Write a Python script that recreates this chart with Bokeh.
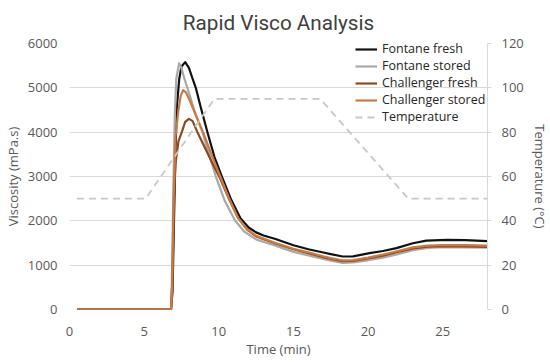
from bokeh.plotting import figure
from bokeh.models import Range1d, LinearAxis, FixedTicker, Legend, LegendItem
from bokeh.embed import file_html
from bokeh.resources import INLINE

# ---- data ----
chart_title = "Rapid Visco Analysis"
series_names = ["Fontane fresh", "Fontane stored", "Challenger fresh", "Challenger stored"]
series_colors = ["#111111", "#A9A9A9", "#8A4A22", "#C97B45"]

ff_time = [0.5, 6.8, 6.9, 7.0, 7.1, 7.2, 7.35, 7.5, 7.75, 8.0, 8.2, 8.46, 8.8, 9.24, 9.7, 10.2,
           10.8, 11.45, 12.0, 12.5, 13.0, 13.8, 15.0, 16.0, 17.0, 17.5, 18.3, 19.0, 20.1, 21.0,
           21.9, 23.0, 23.9, 25.3, 26.5, 28.0]
ff_visc = [0, 0, 400, 2000, 3600, 4600, 5200, 5480, 5580, 5450, 5250, 5000, 4550, 4000, 3450, 3000,
           2500, 2060, 1850, 1740, 1670, 1590, 1450, 1360, 1285, 1250, 1195, 1200, 1270, 1320,
           1385, 1495, 1555, 1572, 1565, 1541]

fs_time = [0.5, 6.8, 6.85, 6.95, 7.05, 7.15, 7.34, 7.5, 7.7, 7.9, 8.4, 8.9, 9.35, 9.8, 10.4,
           11.1, 11.7, 12.5, 13.8, 15.0, 16.0, 17.0, 17.5, 18.3, 19.0, 20.0, 21.0, 22.0, 23.0,
           24.0, 25.0, 26.5, 28.0]
fs_visc = [0, 0, 500, 2600, 4300, 5200, 5556, 5450, 5200, 5000, 4450, 4000, 3500, 3000, 2450,
           2000, 1760, 1580, 1440, 1300, 1220, 1140, 1100, 1050, 1060, 1110, 1170, 1250, 1340,
           1390, 1405, 1400, 1395]

cf_time = [0.5, 6.8, 6.9, 7.0, 7.1, 7.3, 7.52, 7.75, 8.0, 8.25, 8.57, 9.0, 9.5, 10.1, 10.7,
           11.3, 11.9, 12.5, 13.8, 15.0, 16.0, 17.0, 17.5, 18.3, 19.0, 20.0, 21.0, 22.0, 23.0,
           24.0, 25.0, 26.5, 28.0]
cf_visc = [0, 0, 700, 2500, 3300, 3800, 4000, 4230, 4300, 4250, 4000, 3700, 3350, 2950, 2480,
           2060, 1800, 1650, 1490, 1360, 1270, 1180, 1140, 1090, 1095, 1150, 1215, 1300, 1380,
           1420, 1430, 1425, 1410]

cs_time = [0.5, 6.8, 6.88, 6.98, 7.1, 7.3, 7.45, 7.61, 7.8, 8.0, 8.5, 8.95, 9.5, 10.1, 10.7,
           11.3, 11.9, 12.5, 13.8, 15.0, 16.0, 17.0, 17.5, 18.3, 19.0, 20.0, 21.0, 22.0, 23.0,
           24.0, 25.0, 26.5, 28.0]
cs_visc = [0, 0, 600, 2600, 3900, 4500, 4820, 4950, 4900, 4760, 4350, 4000, 3500, 3000, 2500,
           2060, 1810, 1660, 1500, 1370, 1290, 1200, 1160, 1110, 1115, 1170, 1240, 1320, 1400,
           1440, 1455, 1450, 1440]

temp_time = [0.5, 5.1, 9.7, 16.8, 22.7, 28.0]
temp_vals = [50, 50, 95, 95, 50, 50]

x_ticks = [0, 5, 10, 15, 20, 25]
visc_ticks = [0, 1000, 2000, 3000, 4000, 5000, 6000]
temp_ticks = [0, 20, 40, 60, 80, 100, 120]

FONT = "Open Sans"
TICK_COLOR = "#595959"
GRID = "#D9D9D9"

p = figure(frame_width=418, frame_height=266, output_backend="svg", toolbar_location=None,
           x_range=Range1d(0, 28), y_range=Range1d(0, 6000),
           min_border_left=69, min_border_right=55, min_border_top=43, min_border_bottom=46)
p.outline_line_color = None
p.background_fill_color = "white"

p.title.text = chart_title
p.title.align = "center"
p.title.vertical_align = "top"
p.title.text_font = "Roboto"
p.title.text_font_size = "20.7px"
p.title.text_font_style = "normal"
p.title.text_color = "#404040"
p.title.standoff = 13

# grid
p.xgrid.visible = False
p.ygrid.ticker = FixedTicker(ticks=visc_ticks)
p.ygrid.grid_line_color = GRID
p.ygrid.grid_line_width = 1

# x axis
xa = p.xaxis[0]
xa.ticker = FixedTicker(ticks=x_ticks)
xa.axis_line_color = None
xa.major_tick_line_color = None
xa.minor_tick_line_color = None
xa.major_tick_out = 0
xa.major_label_standoff = 17
xa.major_label_text_font = FONT
xa.major_label_text_font_size = "13px"
xa.major_label_text_color = TICK_COLOR
xa.axis_label = "Time (min)"
xa.axis_label_text_font = FONT
xa.axis_label_text_font_size = "13px"
xa.axis_label_text_font_style = "normal"
xa.axis_label_text_color = TICK_COLOR
xa.axis_label_standoff = 1

# left axis
ya = p.yaxis[0]
ya.ticker = FixedTicker(ticks=visc_ticks)
ya.axis_line_color = None
ya.major_tick_line_color = None
ya.minor_tick_line_color = None
ya.major_tick_out = 0
ya.major_label_standoff = 12
ya.major_label_text_font = FONT
ya.major_label_text_font_size = "13px"
ya.major_label_text_color = TICK_COLOR
ya.axis_label = "Viscosity (mPa.s)"
ya.axis_label_text_font = FONT
ya.axis_label_text_font_size = "13px"
ya.axis_label_text_font_style = "normal"
ya.axis_label_text_color = TICK_COLOR
ya.axis_label_standoff = 3

# right axis
p.extra_y_ranges = {"temp": Range1d(0, 120)}
ra = LinearAxis(y_range_name="temp", ticker=FixedTicker(ticks=temp_ticks))
ra.axis_line_color = GRID
ra.major_tick_line_color = GRID
ra.minor_tick_line_color = None
ra.major_tick_out = 4
ra.major_tick_in = 0
ra.major_label_standoff = 10
ra.major_label_text_font = FONT
ra.major_label_text_font_size = "13px"
ra.major_label_text_color = TICK_COLOR
ra.axis_label = "Temperature (°C)"
ra.axis_label_text_font = FONT
ra.axis_label_text_font_size = "13px"
ra.axis_label_text_font_style = "normal"
ra.axis_label_text_color = TICK_COLOR
ra.axis_label_standoff = 4
p.add_layout(ra, "right")

# lines
all_times = [ff_time, fs_time, cf_time, cs_time]
all_visc = [ff_visc, fs_visc, cf_visc, cs_visc]
renderers = []
for t, v, c in zip(all_times, all_visc, series_colors):
    r = p.line(t, v, line_color=c, line_width=2.2, line_join="round")
    renderers.append(r)

tr = p.line(temp_time, temp_vals, y_range_name="temp", line_color="#C8C8C8",
            line_width=1.8, line_dash="7 5")

items = [LegendItem(label=n, renderers=[r]) for n, r in zip(series_names, renderers)]
items.append(LegendItem(label="Temperature", renderers=[tr]))
legend = Legend(items=items, location=(286, 184))
legend.background_fill_alpha = 0
legend.border_line_color = None
legend.padding = 0
legend.margin = 0
legend.spacing = 0
legend.glyph_width = 22
legend.glyph_height = 14
legend.label_height = 14
legend.label_standoff = 5
legend.label_text_font = FONT
legend.label_text_font_size = "12.5px"
legend.label_text_color = "#262626"
p.add_layout(legend, "center")

open("out.html", "w").write(file_html(p, INLINE))
